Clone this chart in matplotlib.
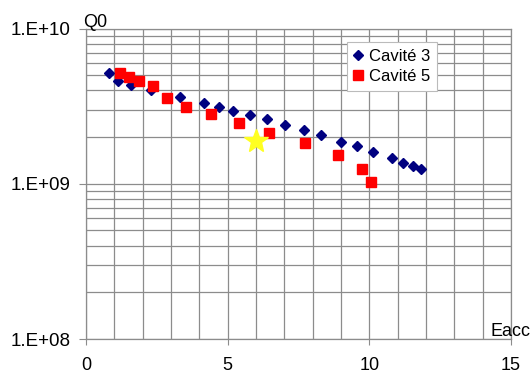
import math
import matplotlib
matplotlib.use("Agg")
import matplotlib.pyplot as plt
from matplotlib.ticker import FixedLocator, LogLocator, FuncFormatter, NullFormatter

plt.rcParams['font.family'] = ['Liberation Sans', 'DejaVu Sans']

# Cavité 3 (blue diamonds)
eacc_c3 = [0.82, 1.12, 1.58, 2.29, 3.31, 4.17, 4.69, 5.20, 5.79, 6.40,
           7.04, 7.68, 8.30, 9.00, 9.57, 10.15, 10.79, 11.19, 11.54, 11.84]
q0_c3 = [5.15e9, 4.6e9, 4.3e9, 4.02e9, 3.64e9, 3.3e9, 3.14e9, 2.96e9, 2.76e9, 2.63e9,
         2.4e9, 2.23e9, 2.07e9, 1.87e9, 1.75e9, 1.61e9, 1.47e9, 1.37e9, 1.30e9, 1.25e9]

# Cavité 5 (red squares)
eacc_c5 = [1.20, 1.50, 1.88, 2.36, 2.86, 3.53, 4.40, 5.39, 6.45, 7.72, 8.90, 9.74, 10.05]
q0_c5 = [5.2e9, 4.85e9, 4.57e9, 4.24e9, 3.55e9, 3.1e9, 2.81e9, 2.45e9, 2.11e9,
         1.82e9, 1.53e9, 1.24e9, 1.03e9]

# single highlighted point
star_eacc = [6.0]
star_q0 = [1.89e9]

x_ticks = [0, 5, 10, 15]
y_ticks = [1e8, 1e9, 1e10]

fig = plt.figure(figsize=(5.31, 3.75), dpi=100)
ax = fig.add_axes([0.162, 0.096, 0.800, 0.828])

ax.set_yscale("log")
ax.set_xlim(0, 15)
ax.set_ylim(1e8, 1e10)

# grid every unit in x, every minor decade step in y
ax.xaxis.set_major_locator(FixedLocator(x_ticks))
ax.xaxis.set_minor_locator(FixedLocator(range(0, 16)))
ax.yaxis.set_major_locator(FixedLocator(y_ticks))
ax.yaxis.set_minor_locator(LogLocator(base=10, subs=range(2, 10)))
ax.yaxis.set_minor_formatter(NullFormatter())
ax.yaxis.set_major_formatter(FuncFormatter(lambda v, p: "1.E+%02d" % round(math.log10(v))))

ax.grid(True, which="both", color="#8c8c8c", linewidth=0.9)
ax.set_axisbelow(True)
for s in ax.spines.values():
    s.set_color("#8c8c8c")
    s.set_linewidth(0.9)

ax.tick_params(axis="x", which="major", length=4, color="#8c8c8c", pad=9, labelsize=13)
ax.tick_params(axis="y", which="major", length=5, color="#8c8c8c", pad=6, labelsize=13.5)
ax.tick_params(which="minor", length=0)

ax.plot(eacc_c3, q0_c3, linestyle="none", marker="D", markersize=5.5,
        color="#000080", label="Cavité 3")
ax.plot(eacc_c5, q0_c5, linestyle="none", marker="s", markersize=7.5,
        color="#ff0000", label="Cavité 5")
ax.plot(star_eacc, star_q0, linestyle="none", marker="*", markersize=18,
        color="#ffff22", markeredgecolor="#ffff22")

leg = ax.legend(loc="upper left", bbox_to_anchor=(0.615, 0.955), fontsize=12,
                frameon=True, fancybox=False, borderpad=0.4, handlelength=0.5,
                handletextpad=0.4, labelspacing=0.3, borderaxespad=0)
leg.get_frame().set_edgecolor("#bbbbbb")
leg.get_frame().set_linewidth(0.8)
leg.get_frame().set_alpha(1)

ax.annotate("Q0", xy=(0, 1), xycoords="axes fraction", xytext=(-2, -2),
            textcoords="offset points", ha="left", va="bottom", fontsize=13)
ax.annotate("Eacc", xy=(0.953, 0), xycoords="axes fraction", xytext=(0, -0.5),
            textcoords="offset points", ha="left", va="bottom", fontsize=13,
            annotation_clip=False)

fig.savefig("out.png", dpi=100)
